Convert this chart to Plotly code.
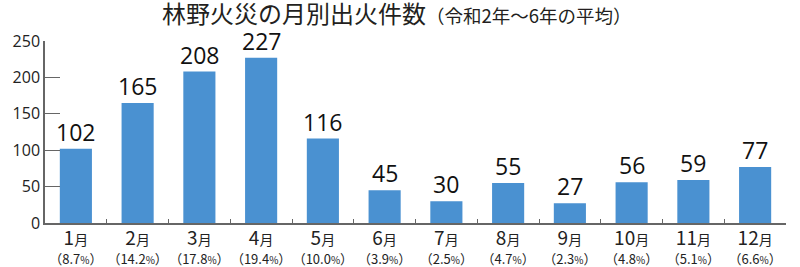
import plotly.graph_objects as go

months = ["1月", "2月", "3月", "4月", "5月", "6月", "7月", "8月", "9月", "10月", "11月", "12月"]
counts = [102, 165, 208, 227, 116, 45, 30, 55, 27, 56, 59, 77]
shares = ["8.7", "14.2", "17.8", "19.4", "10.0", "3.9", "2.5", "4.7", "2.3", "4.8", "5.1", "6.6"]
y_ticks = [0, 50, 100, 150, 200, 250]

def label(m, s):
    num = m[:-1]
    return (f"<span style='font-size:19px'>{num}</span><span style='font-size:14px'>月</span><br>"
            f"<span style='font-size:13px'>（{s}<span style='font-size:10px'>%</span>）</span>")

ticktext = [label(m, s) for m, s in zip(months, shares)]

fig = go.Figure()
fig.add_trace(go.Bar(
    x=months, y=counts,
    marker=dict(color="#4a91d1", line=dict(width=0)),
    cliponaxis=False,
))
for m, c in zip(months, counts):
    fig.add_annotation(
        x=m, y=c, xref="x", yref="y", text=str(c), showarrow=False,
        xanchor="center", yanchor="bottom", yshift=-1,
        font=dict(size=23, color="#111", family="Open Sans, Noto Sans CJK JP"),
    )
fig.add_annotation(
    text="<span style='font-size:24px'>林野火災の月別出火件数</span>"
         "<span style='font-size:18.5px'>（令和2年～6年の平均）</span>",
    xref="paper", yref="paper", x=(397 - 45) / 741, y=1, yshift=29,
    xanchor="center", yanchor="middle", showarrow=False,
    font=dict(color="#231f20", family="Noto Sans CJK JP"),
)
fig.update_layout(
    width=800, height=267,
    margin=dict(l=45, r=14, t=41, b=44),
    paper_bgcolor="white", plot_bgcolor="white",
    bargap=0.48, showlegend=False,
    font=dict(family="Noto Sans CJK JP, Open Sans", color="#222"),
    xaxis=dict(
        tickmode="array", tickvals=months, ticktext=ticktext, tickangle=0,
        showline=True, linecolor="#666", linewidth=1.5,
        ticks="inside", ticklen=4, tickcolor="#666", tickson="boundaries",
        showgrid=False, tickfont=dict(size=15, color="#222"),
        automargin=False, ticklabelstandoff=2,
    ),
    yaxis=dict(
        range=[0, 250], tickvals=y_ticks,
        showline=True, linecolor="#666", linewidth=1.5,
        ticks="inside", ticklen=15, tickcolor="#666",
        showgrid=False, zeroline=False, automargin=False,
        tickfont=dict(size=16, color="#222", family="Open Sans"),
    ),
)
fig.write_html("out.html")
